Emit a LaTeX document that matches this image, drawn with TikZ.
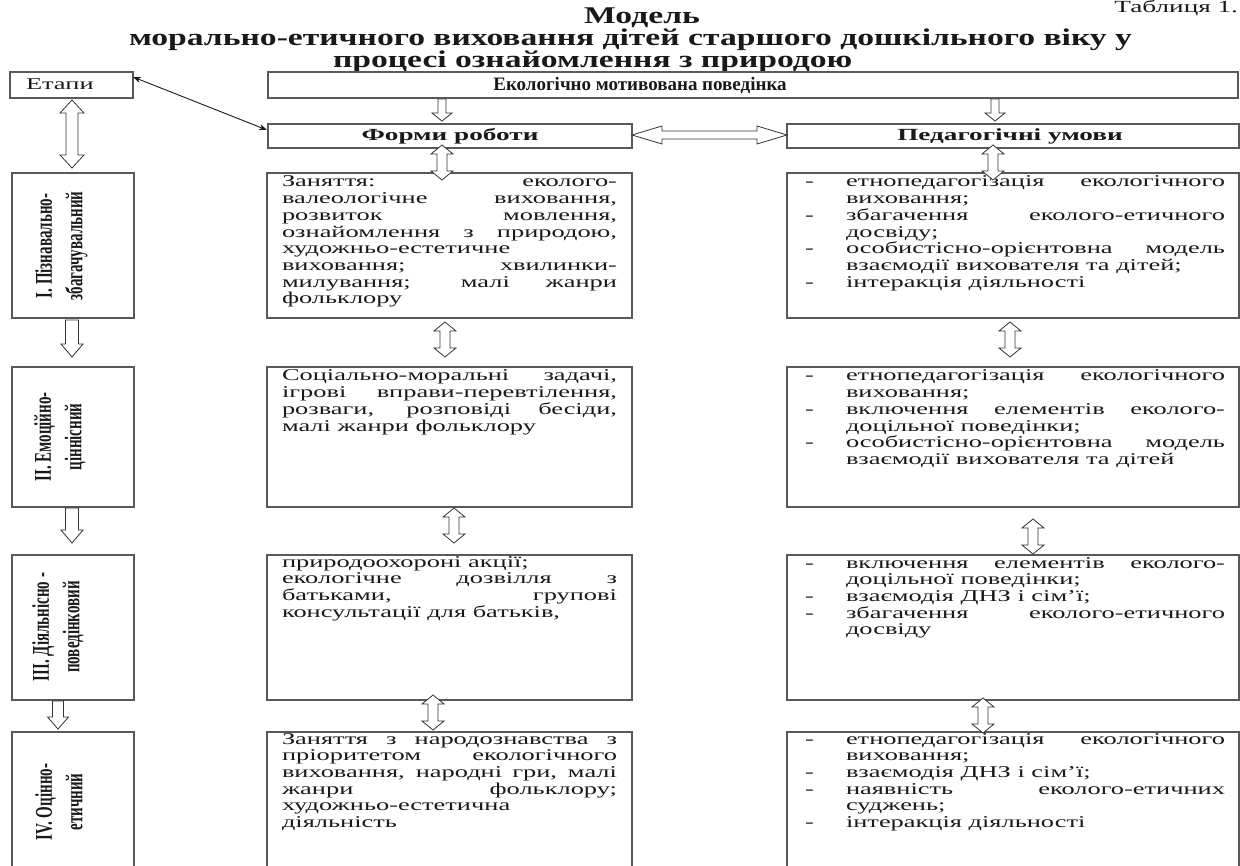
\documentclass[tikz,border=0pt]{standalone}
\usepackage{graphicx}
\usepackage{fontspec}
\setmainfont{Liberation Serif}
\newfontfamily\bodyf[FakeStretch=1.6]{Liberation Serif}
\newfontfamily\titlef[FakeStretch=1.4]{Liberation Serif}
\newfontfamily\labf{Liberation Serif}
\usetikzlibrary{calc,arrows.meta}
\newcommand\J[1]{\hbox to \hsize{#1}}
\newcommand\Lf[1]{\hbox to \hsize{#1\hfil}}
\newcommand\Dj[1]{\hbox to \hsize{\hbox to 41pt{-\hfil}#1}}
\newcommand\Dl[1]{\hbox to \hsize{\hbox to 41pt{-\hfil}#1\hfil}}
\newcommand\Cl[1]{\hbox to \hsize{\hskip 41pt #1\hfil}}
\newcommand\BT{\bodyf\fontsize{16.5}{16.67}\selectfont}
\newcommand\VL[1]{\scalebox{1}[1.6]{\labf\bfseries\fontsize{15}{19}\selectfont\begin{tabular}{@{}c@{}}#1\end{tabular}}}
\tikzset{
  box/.style={draw=black!65, line width=1.1pt, inner sep=0pt, outer sep=0pt, anchor=north west},
  blk/.style={draw=black!80, fill=white, line width=0.8pt, line join=miter},
  txt/.style={inner sep=0pt, outer sep=0pt, text=black!90},
  vlab/.style={rotate=90, inner sep=0pt, text=black!90}
}
% vertical double arrow: x, ytop, ybot, shaft half, head half, head length
\newcommand\vdarr[6]{\draw[blk] (#1,#2) -- ({#1+#5},{#2+#6}) -- ({#1+#4},{#2+#6}) -- ({#1+#4},{#3-#6}) -- ({#1+#5},{#3-#6}) -- (#1,#3) -- ({#1-#5},{#3-#6}) -- ({#1-#4},{#3-#6}) -- ({#1-#4},{#2+#6}) -- ({#1-#5},{#2+#6}) -- cycle;}
% vertical single (down) arrow
\newcommand\vsarr[6]{\draw[blk] ({#1-#4},#2) -- ({#1+#4},#2) -- ({#1+#4},{#3-#6}) -- ({#1+#5},{#3-#6}) -- (#1,#3) -- ({#1-#5},{#3-#6}) -- ({#1-#4},{#3-#6}) -- cycle;}
% horizontal double arrow: y, xleft, xright, shaft half, head half, head length
\newcommand\hdarr[6]{\draw[blk] (#2,#1) -- ({#2+#6},{#1-#5}) -- ({#2+#6},{#1-#4}) -- ({#3-#6},{#1-#4}) -- ({#3-#6},{#1-#5}) -- (#3,#1) -- ({#3-#6},{#1+#5}) -- ({#3-#6},{#1+#4}) -- ({#2+#6},{#1+#4}) -- ({#2+#6},{#1+#5}) -- cycle;}
\begin{document}
\begin{tikzpicture}[x=1pt,y=-1pt]
\fill[white] (0,0) rectangle (1240,866);
\clip (0,0) rectangle (1240,866);
% titles
\node[txt, anchor=base east] (tab) at (1238,13) {\bodyf\fontsize{17}{20}\selectfont Таблиця 1.};
\node[txt, anchor=base] (t1) at (642,24) {\titlef\bfseries\fontsize{24}{28}\selectfont Модель};
\node[txt, anchor=base west] (t2) at (129,46) {\titlef\bfseries\fontsize{24}{28}\selectfont морально-етичного виховання дітей старшого дошкільного віку у};
\node[txt, anchor=base west] (t3) at (333,68) {\titlef\bfseries\fontsize{24}{28}\selectfont процесі ознайомлення з природою};
% header boxes
\node[box, minimum width=123pt, minimum height=26pt] (etapy) at (10,72) {};
\node[txt, anchor=base west] (etapyt) at (26,90) {\BT Етапи};
\node[box, minimum width=970pt, minimum height=26pt] (ekol) at (268,72) {};
\node[txt, anchor=base] (ekolt) at (640,91) {\labf\bfseries\fontsize{19}{20}\selectfont Екологічно мотивована поведінка};
\node[box, minimum width=364pt, minimum height=24pt] (forms) at (268,124) {};
\node[txt, anchor=base] (formst) at (450,141) {\bodyf\bfseries\fontsize{17}{20}\selectfont Форми роботи};
\node[box, minimum width=452pt, minimum height=24pt] (pu) at (787,124) {};
\node[txt, anchor=base] (put) at (1010,141) {\bodyf\bfseries\fontsize{17}{20}\selectfont Педагогічні умови};
% stage boxes
\node[box, minimum width=122pt, minimum height=145pt] (s1) at (12,173) {};
\node[box, minimum width=122pt, minimum height=140pt] (s2) at (12,367) {};
\node[box, minimum width=122pt, minimum height=145pt] (s3) at (12,555) {};
\node[box, minimum width=122pt, minimum height=150pt] (s4) at (12,732) {};
\node[vlab] (s1t) at (61,246) {\VL{I. Пізнавально-\\збагачувальний}};
\node[vlab] (s2t) at (60,437) {\VL{II. Емоційно-\\ціннісний}};
\node[vlab] (s3t) at (58,627) {\VL{III. Діяльнісно -\\поведінковий}};
\node[vlab] (s4t) at (61,802) {\VL{IV. Оцінно-\\етичний}};
% forms boxes
\node[box, minimum width=365pt, minimum height=145pt] (f1) at (267,173) {};
\node[box, minimum width=365pt, minimum height=140pt] (f2) at (267,367) {};
\node[box, minimum width=365pt, minimum height=145pt] (f3) at (267,555) {};
\node[box, minimum width=365pt, minimum height=150pt] (f4) at (267,732) {};
% pu boxes
\node[box, minimum width=452pt, minimum height=145pt] (p1) at (787,173) {};
\node[box, minimum width=452pt, minimum height=140pt] (p2) at (787,367) {};
\node[box, minimum width=452pt, minimum height=145pt] (p3) at (787,555) {};
\node[box, minimum width=452pt, minimum height=150pt] (p4) at (787,732) {};
% forms texts
\node[txt, anchor=base west] (f1t) at (282,187) {\BT\vtop{\hsize=335pt
\J{Заняття: еколого-}
\J{валеологічне виховання,}
\J{розвиток мовлення,}
\J{ознайомлення з природою,}
\Lf{художньо-естетичне}
\J{виховання; хвилинки-}
\J{милування; малі жанри}
\Lf{фольклору}}};
\node[txt, anchor=base west] (f2t) at (282,381) {\BT\vtop{\hsize=335pt
\J{Соціально-моральні задачі,}
\J{ігрові вправи-перевтілення,}
\J{розваги, розповіді бесіди,}
\Lf{малі жанри фольклору}}};
\node[txt, anchor=base west] (f3t) at (282,567) {\BT\vtop{\hsize=335pt
\Lf{природоохороні акції;}
\J{екологічне дозвілля з}
\J{батьками, групові}
\Lf{консультації для батьків,}}};
\node[txt, anchor=base west] (f4t) at (282,744) {\BT\vtop{\hsize=335pt
\J{Заняття з народознавства з}
\J{пріоритетом екологічного}
\J{виховання, народні гри, малі}
\J{жанри фольклору;}
\Lf{художньо-естетична}
\Lf{діяльність}}};
% pu texts
\node[txt, anchor=base west] (p1t) at (805,187) {\BT\vtop{\hsize=420pt
\Dj{етнопедагогізація екологічного}
\Cl{виховання;}
\Dj{збагачення еколого-етичного}
\Cl{досвіду;}
\Dj{особистісно-орієнтовна модель}
\Cl{взаємодії вихователя та дітей;}
\Dl{інтеракція діяльності}}};
\node[txt, anchor=base west] (p2t) at (805,381) {\BT\vtop{\hsize=420pt
\Dj{етнопедагогізація екологічного}
\Cl{виховання;}
\Dj{включення елементів еколого-}
\Cl{доцільної поведінки;}
\Dj{особистісно-орієнтовна модель}
\Cl{взаємодії вихователя та дітей}}};
\node[txt, anchor=base west] (p3t) at (805,568) {\BT\vtop{\hsize=420pt
\Dj{включення елементів еколого-}
\Cl{доцільної поведінки;}
\Dl{взаємодія ДНЗ і сім’ї;}
\Dj{збагачення еколого-етичного}
\Cl{досвіду}}};
\node[txt, anchor=base west] (p4t) at (805,744) {\BT\vtop{\hsize=420pt
\Dj{етнопедагогізація екологічного}
\Cl{виховання;}
\Dl{взаємодія ДНЗ і сім’ї;}
\Dj{наявність еколого-етичних}
\Cl{суджень;}
\Dl{інтеракція діяльності}}};
% diagonal arrow
\draw[{Stealth[length=8pt,width=6pt]}-{Stealth[length=8pt,width=6pt]}, line width=0.9pt, black!90]
  ($(etapy.north east)+(0,5)$) -- ($(forms.north west)+(-1,6)$);
% block arrows
\vdarr{72}{100}{168}{6}{12}{13}
\vsarr{72}{320}{357}{6.5}{11}{13}
\vsarr{72}{508}{543}{6.5}{11}{13}
\vsarr{58}{701}{729}{5.5}{10.5}{12}
\vsarr{442}{99}{121}{4}{10}{8}
\vsarr{995}{99}{121}{4}{10}{8}
\hdarr{135}{632}{787}{4}{9}{30}
\vdarr{442}{145}{180}{5}{11}{9}
\vdarr{993}{145}{180}{5}{11}{9}
\vdarr{445}{322}{357}{5}{11}{9}
\vdarr{1010}{322}{357}{5}{11}{9}
\vdarr{454}{508}{543}{5}{11}{9}
\vdarr{1033}{519}{554}{5}{11}{9}
\vdarr{433}{695}{730}{5}{11}{9}
\vdarr{983}{698}{733}{5}{11}{9}
\end{tikzpicture}
\end{document}
